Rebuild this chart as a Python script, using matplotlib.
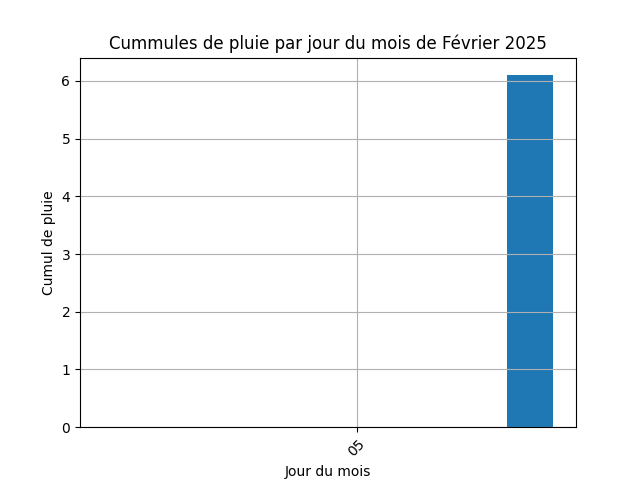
import matplotlib
matplotlib.use("Agg")
import matplotlib.pyplot as plt
import matplotlib.dates as mdates
import pandas as pd

days = pd.date_range("2025-02-01", "2025-02-08", freq="D")
rain = [0, 0, 0, 0, 0, 0, 0, 6.1]
tick_days = pd.to_datetime(["2025-02-05"])

fig, ax = plt.subplots(figsize=(6.4, 4.8), dpi=100)
ax.bar(days, rain, width=0.8, color="#1f77b4")
ax.set_xticks(tick_days)
ax.xaxis.set_major_formatter(mdates.DateFormatter("%d"))
plt.setp(ax.get_xticklabels(), rotation=45)
ax.set_title("Cummules de pluie par jour du mois de Février 2025")
ax.set_xlabel("Jour du mois")
ax.set_ylabel("Cumul de pluie")
ax.grid(True)
fig.savefig("out.png")
